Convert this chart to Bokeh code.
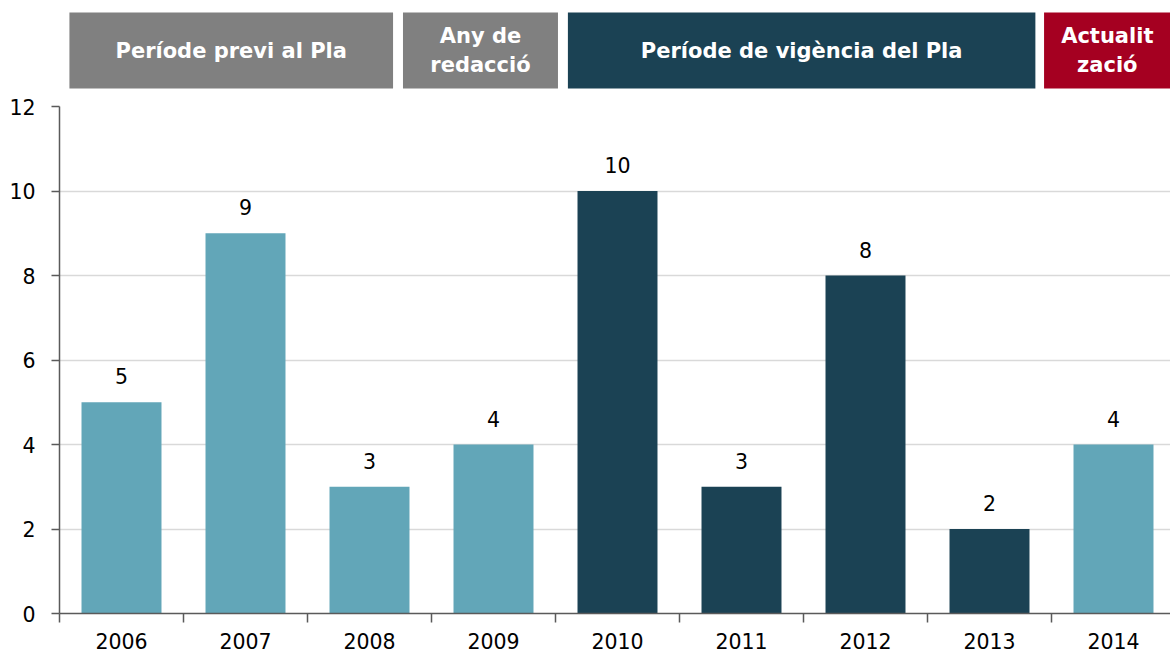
from bokeh.plotting import figure
from bokeh.models import Range1d, FixedTicker, ColumnDataSource
from bokeh.layouts import column
from bokeh.core.properties import value
from bokeh.embed import file_html
from bokeh.resources import INLINE

# ---------------- data ----------------
years = ["2006", "2007", "2008", "2009", "2010", "2011", "2012", "2013", "2014"]
counts = [5, 9, 3, 4, 10, 3, 8, 2, 4]
periods = ["previ", "previ", "previ", "redaccio", "vigencia", "vigencia",
           "vigencia", "vigencia", "actualitzacio"]
y_ticks = [0, 2, 4, 6, 8, 10, 12]
header_labels = ["Període previ al Pla", "Any de\nredacció",
                 "Període de vigència del Pla", "Actualit\nzació"]

# ---------------- styles / layout ----------------
LIGHT = "#62A6B8"
DARK = "#1B4254"
GREY_HDR = "#808080"
RED_HDR = "#A50021"
AXIS = "#5A5A5A"
GRID = "#D9D9D9"
FONT = "DejaVu Sans"
LABEL_SIZE = "20.5px"

period_color = {"previ": LIGHT, "redaccio": LIGHT, "vigencia": DARK,
                "actualitzacio": LIGHT}
header_colors = [GREY_HDR, GREY_HDR, DARK, RED_HDR]
# header box extents in category units (category i centred on i)
header_left = [-0.42, 2.27, 3.60, 7.44]
header_right = [2.19, 3.52, 7.37, 8.46]

CAT_PX = 124
LEFT = 59
W = 1170
FRAME_W = W - LEFT
x_range = Range1d(-0.5, -0.5 + FRAME_W / CAT_PX)

# ---------------- header ----------------
HDR_H = 96
hdr = figure(width=W, height=HDR_H, x_range=x_range, y_range=Range1d(HDR_H, 0),
             x_axis_type=None, y_axis_type=None, toolbar_location=None,
             output_backend="svg", min_border=0, min_border_left=LEFT,
             min_border_right=0, outline_line_color=None)
hdr.grid.visible = False
hsrc = ColumnDataSource(dict(left=header_left, right=header_right,
                             color=header_colors, label=header_labels,
                             xc=[(a + b) / 2 for a, b in zip(header_left, header_right)]))
hdr.quad(left="left", right="right", top=12, bottom=88, color="color",
         line_color=None, source=hsrc)
hdr.text(x="xc", y=50, text="label", source=hsrc, text_align="center",
         text_baseline="middle", text_color="white", text_font=value(FONT),
         text_font_style="bold", text_font_size="21px", text_line_height=1.2)

# ---------------- main chart ----------------
idx = list(range(len(years)))
src = ColumnDataSource(dict(x=idx, top=counts, label=[str(v) for v in counts],
                            color=[period_color[p] for p in periods]))

p = figure(width=W, height=559, x_range=x_range, y_range=Range1d(0, 12),
           toolbar_location=None, output_backend="svg",
           min_border_left=LEFT, min_border_right=0, min_border_top=10,
           min_border_bottom=42, outline_line_color=None)

p.vbar(x="x", top="top", width=0.645, color="color", line_color=None, source=src)
p.text(x="x", y="top", text="label", source=src, text_align="center",
       text_baseline="alphabetic", y_offset=-26, text_font=value(FONT),
       text_font_size=LABEL_SIZE, text_color="#000000")

# y axis
p.yaxis.ticker = FixedTicker(ticks=y_ticks)
p.yaxis.axis_line_color = AXIS
p.yaxis.axis_line_width = 1.5
p.yaxis.major_tick_line_color = AXIS
p.yaxis.major_tick_line_width = 1.5
p.yaxis.major_tick_out = 8
p.yaxis.major_tick_in = 0
p.yaxis.minor_tick_line_color = None
p.yaxis.major_label_standoff = 16
p.yaxis.major_label_text_font = FONT
p.yaxis.major_label_text_font_size = LABEL_SIZE
p.yaxis.major_label_text_color = "#000000"

# x axis: labels at category centres, ticks between categories
p.xaxis.ticker = FixedTicker(ticks=idx, minor_ticks=[i - 0.5 for i in range(len(years) + 1)])
p.xaxis.major_label_overrides = {i: y for i, y in enumerate(years)}
p.xaxis.axis_line_color = AXIS
p.xaxis.axis_line_width = 1.5
p.xaxis.major_tick_line_color = None
p.xaxis.major_tick_out = 0
p.xaxis.major_tick_in = 0
p.xaxis.minor_tick_line_color = AXIS
p.xaxis.minor_tick_line_width = 1.5
p.xaxis.minor_tick_out = 9
p.xaxis.minor_tick_in = 0
p.xaxis.major_label_standoff = 10
p.xaxis.major_label_text_font = FONT
p.xaxis.major_label_text_font_size = LABEL_SIZE
p.xaxis.major_label_text_color = "#000000"

p.xgrid.visible = False
p.ygrid.grid_line_color = GRID
p.ygrid.grid_line_width = 1.5

layout = column(hdr, p, spacing=0)
open("out.html", "w").write(file_html(layout, INLINE))
